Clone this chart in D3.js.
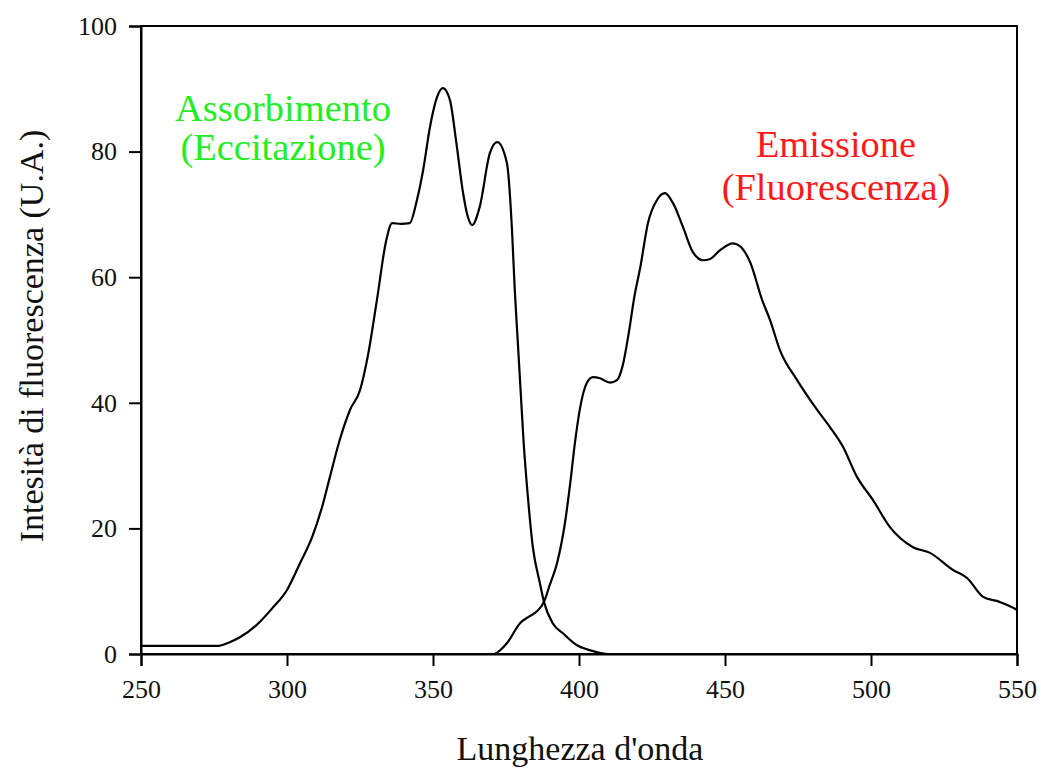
<!DOCTYPE html>
<html>
<head>
<meta charset="utf-8">
<script src="https://cdn.jsdelivr.net/npm/d3@7"></script>
<style>
  html, body { margin: 0; padding: 0; background: #fff; }
  svg { display: block; }
  text { font-family: "Liberation Serif", "Times New Roman", serif; }
</style>
</head>
<body>
<svg id="chart" width="1041" height="768"></svg>
<script>
// Wavelength (nm) and intensity (U.A.)
const absWavelength = [250, 276.5, 280, 284, 290, 295, 300, 304.5, 308.6, 312, 314.7, 318, 321.6, 325, 327.7, 330.8, 334, 336, 339, 342, 344.5, 346.6, 349, 351.4, 353.4, 355.8, 358, 360.3, 362, 363.4, 366, 369.5, 372, 375.3, 377, 378, 379, 380, 381, 382.5, 384.2, 386.6, 388, 391, 394.5, 399.3, 403, 406, 409.6];
const absIntensity  = [1.3, 1.3, 1.8, 2.7, 4.8, 7.3, 10.2, 14.5, 18.6, 23.4, 28.2, 34, 38.9, 42, 47.5, 56.4, 65.9, 68.6, 68.5, 68.6, 72.3, 77, 84, 88.7, 90.1, 88.2, 81.4, 73.4, 69.5, 68.3, 71.2, 79.8, 81.5, 78.2, 68, 58, 50, 42, 34, 25, 17, 11.3, 8.3, 4.9, 3.3, 1.4, 0.7, 0.3, 0];

const emWavelength = [371.2, 373, 375.3, 379.8, 383, 385.6, 388, 390, 392.5, 395.2, 397, 398.6, 400.3, 402.7, 404.8, 407.2, 410.6, 413, 415, 417, 419, 421, 423.6, 426.7, 429.4, 432.2, 435.6, 439, 442.5, 444.9, 448.3, 452.7, 455, 458.6, 462.7, 465.4, 468.8, 474.7, 481.5, 486, 490.4, 495.2, 500.7, 506.5, 514.4, 520.2, 528, 532.9, 538.4, 544, 549.3, 550];
const emIntensity  = [0, 0.6, 1.7, 4.9, 6, 6.8, 8.3, 11, 14.5, 20.9, 27.2, 33.6, 39, 43.2, 44.1, 43.9, 43.2, 43.6, 46, 51, 57, 61.6, 68.6, 72.3, 73.4, 71.8, 68, 64, 62.7, 62.9, 64.3, 65.4, 65, 62.4, 56.4, 53.2, 48.4, 43.6, 38.9, 36.1, 33, 28.2, 24.5, 20.2, 17, 16.1, 13.4, 12.1, 9.1, 8.3, 7.2, 7];

const xTicks = [250, 300, 350, 400, 450, 500, 550];
const yTicks = [0, 20, 40, 60, 80, 100];

const xTitle = "Lunghezza d'onda";
const yTitle = "Intesità di fluorescenza (U.A.)";
const absLabel = ["Assorbimento", "(Eccitazione)"];
const emLabel = ["Emissione", "(Fluorescenza)"];

(function () {
const svg = d3.select("#chart");
const mLeft = 141, mRight = 1017, mTop = 26, mBottom = 654;

const x = d3.scaleLinear().domain([250, 550]).range([mLeft, mRight]);
const y = d3.scaleLinear().domain([0, 100]).range([mBottom, mTop]);

// frame
svg.append("rect")
  .attr("x", mLeft).attr("y", mTop)
  .attr("width", mRight - mLeft).attr("height", mBottom - mTop)
  .attr("fill", "none").attr("stroke", "#000").attr("stroke-width", 2);

// axes
const xAxis = svg.append("g")
  .attr("transform", `translate(0,${mBottom})`)
  .call(d3.axisBottom(x).tickValues(xTicks).tickSize(12).tickPadding(14).tickFormat(d3.format("d")));
const yAxis = svg.append("g")
  .attr("transform", `translate(${mLeft},0)`)
  .call(d3.axisLeft(y).tickValues(yTicks).tickSize(12).tickPadding(12).tickFormat(d3.format("d")));

[xAxis, yAxis].forEach(g => {
  g.select(".domain").attr("stroke", "#000").attr("stroke-width", 2);
  g.selectAll(".tick line").attr("stroke", "#000").attr("stroke-width", 2);
  g.selectAll(".tick text")
    .attr("fill", "#111")
    .style("font-family", '"Liberation Serif", "Times New Roman", serif')
    .style("font-size", "26px");
});

// curves
const line = d3.line()
  .x(d => x(d[0]))
  .y(d => y(d[1]))
  .curve(d3.curveMonotoneX);

const absData = absWavelength.map((w, i) => [w, absIntensity[i]]);
const emData = emWavelength.map((w, i) => [w, emIntensity[i]]);

svg.append("path").datum(absData)
  .attr("d", line).attr("fill", "none").attr("stroke", "#000").attr("stroke-width", 2.2);
svg.append("path").datum(emData)
  .attr("d", line).attr("fill", "none").attr("stroke", "#000").attr("stroke-width", 2.2);

// annotations
const absText = svg.append("text")
  .attr("text-anchor", "middle")
  .attr("fill", "#22ee22")
  .style("font-size", "38.5px");
absText.append("tspan").attr("x", 283).attr("y", 121).text(absLabel[0]);
absText.append("tspan").attr("x", 283).attr("y", 160).text(absLabel[1]);

const emText = svg.append("text")
  .attr("text-anchor", "middle")
  .attr("fill", "#ff1a1a")
  .style("font-size", "38.5px");
emText.append("tspan").attr("x", 836).attr("y", 157).text(emLabel[0]);
emText.append("tspan").attr("x", 836).attr("y", 200).text(emLabel[1]);

// axis titles
svg.append("text")
  .attr("x", 580).attr("y", 760)
  .attr("text-anchor", "middle")
  .attr("fill", "#111")
  .style("font-size", "34px")
  .text(xTitle);

svg.append("text")
  .attr("transform", "translate(43,336) rotate(-90)")
  .attr("text-anchor", "middle")
  .attr("fill", "#111")
  .style("font-size", "34px")
  .text(yTitle);
})();
</script>
</body>
</html>
